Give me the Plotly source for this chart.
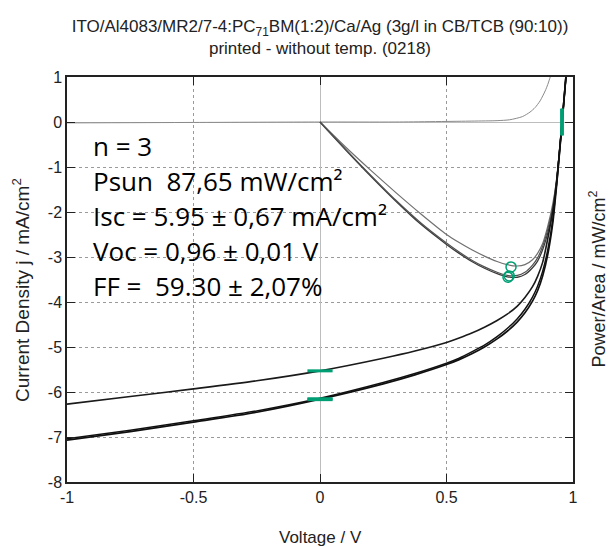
import plotly.graph_objects as go

# ---------------- data ----------------
voltage_jv = [-1.0, -0.75, -0.5, -0.25, 0.0, 0.25, 0.375, 0.5, 0.55, 0.6, 0.65, 0.7, 0.74, 0.78,
              0.81, 0.84, 0.86, 0.88, 0.9, 0.92, 0.935, 0.947, 0.957, 0.966, 0.975]
j_upper = [-6.27, -6.10, -5.93, -5.75, -5.53, -5.25, -5.09, -4.90, -4.80, -4.69, -4.56, -4.41,
           -4.27, -4.09, -3.90, -3.66, -3.43, -3.12, -2.60, -1.98, -1.38, -0.65, 0.0, 0.60, 1.20]
j_low_a = [-7.07, -6.88, -6.67, -6.45, -6.16, -5.82, -5.62, -5.39, -5.28, -5.15, -5.00, -4.82,
           -4.65, -4.44, -4.24, -3.98, -3.75, -3.42, -2.95, -2.25, -1.42, -0.66, 0.0, 0.60, 1.20]
j_low_b = [-7.04, -6.85, -6.64, -6.42, -6.14, -5.79, -5.59, -5.36, -5.25, -5.11, -4.96, -4.77,
           -4.59, -4.37, -4.16, -3.89, -3.65, -3.32, -2.85, -2.17, -1.37, -0.62, 0.02, 0.62, 1.22]

voltage_dark = [-1.0, -0.5, 0.0, 0.3, 0.6, 0.7, 0.75, 0.8, 0.83, 0.85, 0.87, 0.89, 0.9, 0.91, 0.92]
j_dark = [-0.02, -0.01, 0.0, 0.0, 0.02, 0.03, 0.05, 0.12, 0.22, 0.32, 0.47, 0.69, 0.83, 1.0, 1.2]

voltage_pow = [0.0, 0.1, 0.2, 0.3, 0.4, 0.5, 0.55, 0.6, 0.65, 0.7, 0.74, 0.78, 0.81, 0.84,
               0.86, 0.88, 0.9, 0.92, 0.935, 0.947, 0.957, 0.966, 0.975]
p_upper = [0.0, -0.55, -1.07, -1.57, -2.05, -2.50, -2.68, -2.84, -2.98, -3.10, -3.17, -3.20,
           -3.17, -3.06, -2.92, -2.70, -2.32, -1.82, -1.29, -0.62, 0.0, 0.58, 1.17]
p_low_a = [0.0, -0.61, -1.20, -1.76, -2.28, -2.72, -2.92, -3.10, -3.25, -3.37, -3.44, -3.45,
           -3.39, -3.24, -3.09, -2.84, -2.47, -1.97, -1.31, -0.63, 0.0, 0.58, 1.17]
p_low_b = [0.0, -0.60, -1.18, -1.74, -2.25, -2.69, -2.89, -3.07, -3.22, -3.34, -3.41, -3.41,
           -3.34, -3.18, -3.02, -2.76, -2.39, -1.90, -1.27, -0.60, 0.02, 0.60, 1.19]

isc_v = [0.0, 0.0, 0.0]
isc_j = [-5.53, -6.15, -6.17]
voc_v = [0.955, 0.957, 0.958]
voc_j = [0.0, 0.0, 0.0]
mpp_v = [0.755, 0.743, 0.748]
mpp_p = [-3.22, -3.45, -3.42]

stats_lines = ["n = 3",
               "Psun\u00a0 87,65 mW/cm²",
               "Isc = 5.95 ± 0,67 mA/cm²",
               "Voc = 0,96 ± 0,01 V",
               "FF =\u00a0 59.30 ± 2,07%"]
stats_y = [-0.53, -1.30, -2.08, -2.86, -3.64]

x_ticks = [-1, -0.5, 0, 0.5, 1]
x_tick_text = ["-1", "-0.5", "0", "0.5", "1"]
y_ticks = [1, 0, -1, -2, -3, -4, -5, -6, -7, -8]
y_tick_text = ["1", "0", "-1", "-2", "-3", "-4", "-5", "-6", "-7", "-8"]

title_text = ("ITO/Al4083/MR2/7-4:PC<sub>71</sub>BM(1:2)/Ca/Ag (3g/l in CB/TCB (90:10))"
              "<br>printed - without temp. (0218)")

GREEN = "#009e73"
AX_FONT = "Liberation Sans, Arial, sans-serif"
SMOOTH = 0.7

fig = go.Figure()

# dark curve
fig.add_trace(go.Scatter(x=voltage_dark, y=j_dark, mode="lines",
                         line=dict(color="#8a8a8a", width=1, shape="spline", smoothing=SMOOTH)))
# power curves
fig.add_trace(go.Scatter(x=voltage_pow, y=p_upper, mode="lines",
                         line=dict(color="#707070", width=1.2, shape="spline", smoothing=SMOOTH)))
fig.add_trace(go.Scatter(x=voltage_pow, y=p_low_a, mode="lines",
                         line=dict(color="#3a3a3a", width=1.3, shape="spline", smoothing=SMOOTH)))
fig.add_trace(go.Scatter(x=voltage_pow, y=p_low_b, mode="lines",
                         line=dict(color="#505050", width=1.2, shape="spline", smoothing=SMOOTH)))
# J-V curves
fig.add_trace(go.Scatter(x=voltage_jv, y=j_upper, mode="lines",
                         line=dict(color="#1a1a1a", width=1.6, shape="spline", smoothing=SMOOTH)))
fig.add_trace(go.Scatter(x=voltage_jv, y=j_low_a, mode="lines",
                         line=dict(color="#111111", width=1.7, shape="spline", smoothing=SMOOTH)))
fig.add_trace(go.Scatter(x=voltage_jv, y=j_low_b, mode="lines",
                         line=dict(color="#111111", width=1.5, shape="spline", smoothing=SMOOTH)))
# markers
fig.add_trace(go.Scatter(x=isc_v, y=isc_j, mode="markers",
                         marker=dict(symbol="line-ew", size=18, color=GREEN,
                                     line=dict(color=GREEN, width=3))))
fig.add_trace(go.Scatter(x=voc_v, y=voc_j, mode="markers",
                         marker=dict(symbol="line-ns", size=19, color=GREEN,
                                     line=dict(color=GREEN, width=3))))
fig.add_trace(go.Scatter(x=mpp_v, y=mpp_p, mode="markers",
                         marker=dict(symbol="circle-open", size=10, color=GREEN,
                                     line=dict(color=GREEN, width=1.5))))

for txt, yy in zip(stats_lines, stats_y):
    fig.add_annotation(x=-0.905, y=yy, xref="x", yref="y", text=txt, showarrow=False,
                       xanchor="left", yanchor="middle",
                       font=dict(family="Open Sans, Noto Sans, sans-serif", size=26, color="#000"))

axis_common = dict(showline=True, linecolor="#222", linewidth=1.5, mirror="ticks",
                   ticks="inside", ticklen=8, tickcolor="#222", tickwidth=1.2,
                   showgrid=True, gridcolor="#9a9a9a", griddash="dot", gridwidth=1,
                   zeroline=True, zerolinecolor="#bdbdbd", zerolinewidth=1.3,
                   tickfont=dict(family=AX_FONT, size=16, color="#222"))

fig.update_xaxes(range=[-1, 1], tickvals=x_ticks, ticktext=x_tick_text, **axis_common)
fig.update_yaxes(range=[-8, 1], tickvals=y_ticks, ticktext=y_tick_text, **axis_common)

# axis titles
fig.add_annotation(x=0.5, y=0, xref="paper", yref="paper", yshift=-55,
                   text="Voltage / V", showarrow=False, xanchor="center", yanchor="middle",
                   font=dict(family=AX_FONT, size=17, color="#222"))
fig.add_annotation(x=0, y=0.474, xref="paper", yref="paper", xshift=-46,
                   text="Current Density j / mA/cm<sup>2</sup>", textangle=-90,
                   showarrow=False, xanchor="center", yanchor="middle",
                   font=dict(family=AX_FONT, size=19, color="#222"))
fig.add_annotation(x=1.0, y=0.5, xref="paper", yref="paper", xshift=25,
                   text="Power/Area / mW/cm<sup>2</sup>", textangle=-90,
                   showarrow=False, xanchor="center", yanchor="middle",
                   font=dict(family=AX_FONT, size=18, color="#222"))

fig.update_layout(
    width=610, height=547,
    margin=dict(l=67, r=37, t=77, b=65),
    plot_bgcolor="white", paper_bgcolor="white",
    showlegend=False,
    title=dict(text=title_text, x=0.5, xref="paper", xanchor="center",
               y=1 - 32 / 547, yref="container", yanchor="middle",
               font=dict(family=AX_FONT, size=17, color="#222")),
)

fig.write_html("out.html")
